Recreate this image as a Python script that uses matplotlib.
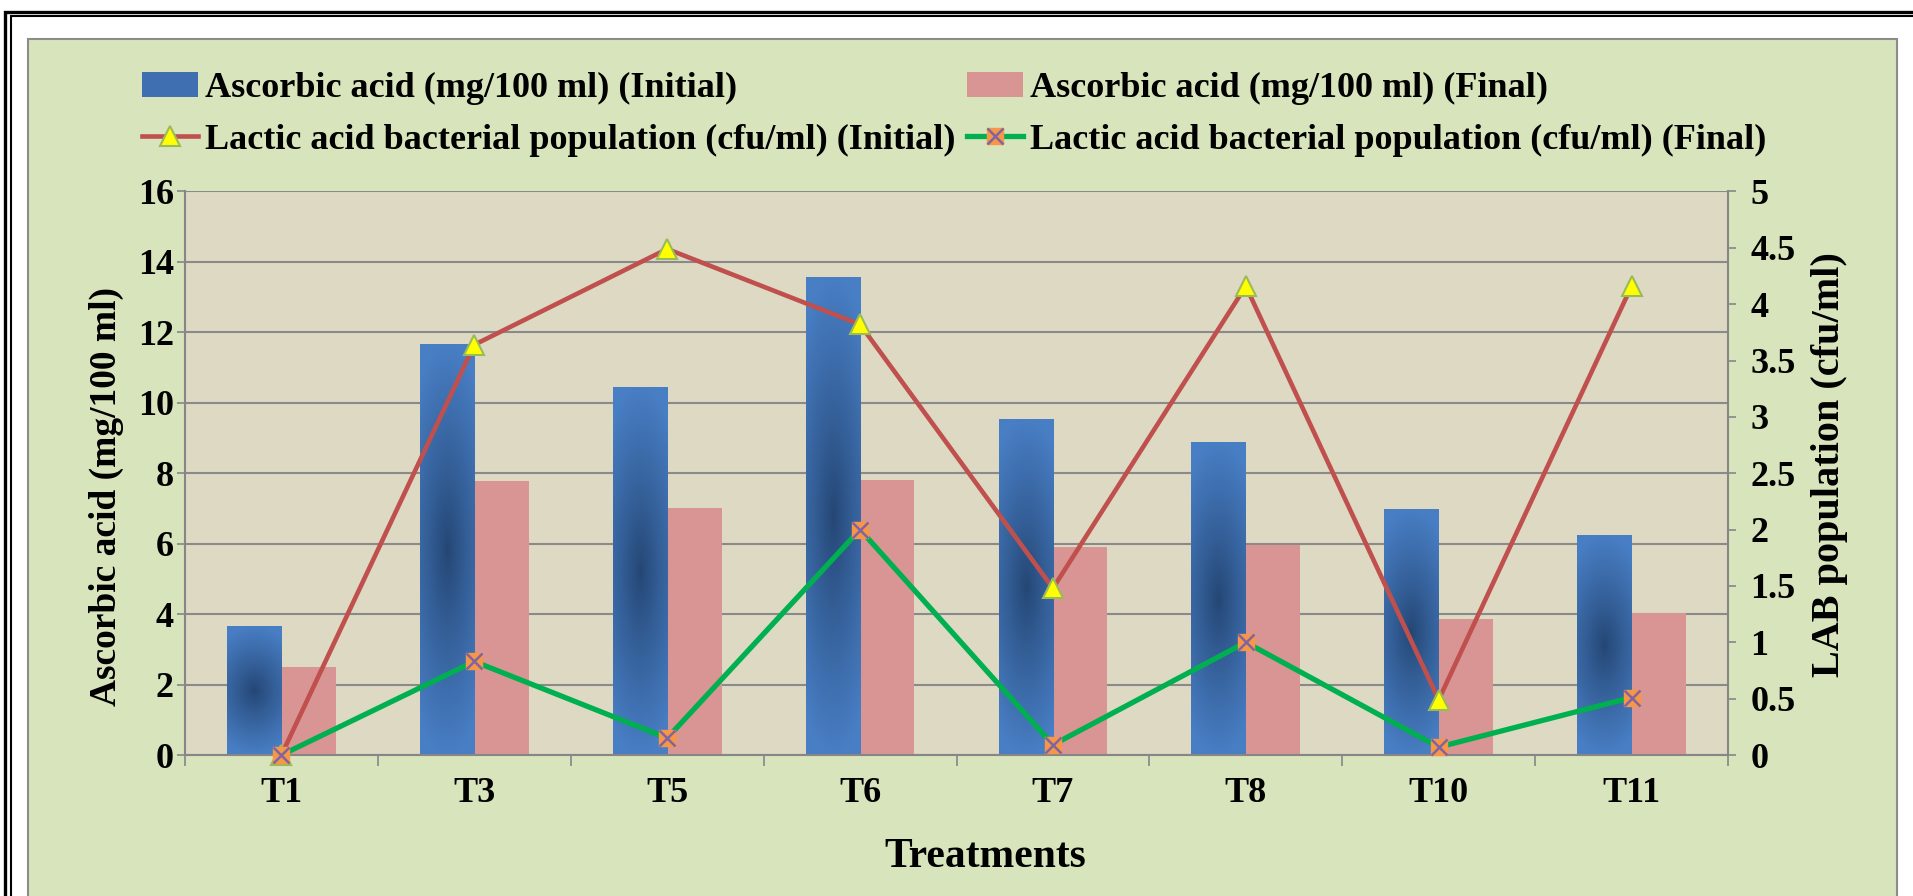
import numpy as np
import matplotlib
matplotlib.use('Agg')
import matplotlib.pyplot as plt
from matplotlib.patches import Rectangle, Patch
from matplotlib.lines import Line2D
from matplotlib.legend_handler import HandlerTuple

# Data
treatments = ['T1', 'T3', 'T5', 'T6', 'T7', 'T8', 'T10', 'T11']
ascorbic_initial = [3.65, 11.66, 10.43, 13.55, 9.53, 8.88, 6.96, 6.23]
ascorbic_final = [2.50, 7.77, 7.00, 7.82, 5.92, 5.97, 3.86, 4.03]
lab_initial = [0.0, 3.64, 4.49, 3.82, 1.48, 4.16, 0.49, 4.16]
lab_final = [0.0, 0.83, 0.15, 2.00, 0.09, 1.00, 0.07, 0.51]

left_ticks = list(range(0, 17, 2))
right_ticks = [0, 0.5, 1, 1.5, 2, 2.5, 3, 3.5, 4, 4.5, 5]

plt.rcParams['font.family'] = ['Liberation Serif', 'DejaVu Serif']
plt.rcParams['font.weight'] = 'bold'
plt.rcParams['axes.labelweight'] = 'bold'

W, H = 1913, 896
fig = plt.figure(figsize=(W / 100, H / 100), dpi=100)
fig.patch.set_facecolor('white')


def fx(px):
    return px / W


def fy(py):
    return 1 - py / H


def frame_rect(x0, y0, x1, y1, **kw):
    # rectangle given in picture pixels (top-left origin)
    r = Rectangle((fx(x0), fy(y1)), fx(x1) - fx(x0), fy(y0) - fy(y1),
                  transform=fig.transFigure, **kw)
    fig.patches.append(r)
    return r


# Double black outer frame (runs off the right and bottom of the picture)
frame_rect(5, 11.7, 1960, 960, fill=False, edgecolor='black', lw=2.4, zorder=-6)
frame_rect(11, 16.2, 1950, 950, fill=False, edgecolor='black', lw=1.5, zorder=-6)
# Green chart panel
frame_rect(27.5, 39.5, 1897, 930, facecolor='#d8e4bc', edgecolor='#8c8c8c', lw=1.5, zorder=-5)

# Plot area
ax = fig.add_axes([fx(185), fy(755), fx(1728) - fx(185), fy(191.5) - fy(755)])
ax.set_facecolor('#ddd9c3')
ax2 = ax.twinx()

x = np.arange(len(treatments))
bw = 0.282

bars_init = ax.bar(x - bw / 2, ascorbic_initial, bw, color='#4a7ec4', zorder=2)
bars_fin = ax.bar(x + bw / 2, ascorbic_final, bw, color='#d99594', zorder=2)

# radial shading on the initial bars
dark = np.array([36, 70, 116]) / 255
light = np.array([72, 126, 196]) / 255
for b in bars_init:
    x0, w, h = b.get_x(), b.get_width(), b.get_height()
    yy, xx = np.mgrid[-1:1:300j, -1:1:40j]
    r = np.clip(np.sqrt(0.3 * xx ** 2 + yy ** 2), 0, 1) ** 0.9
    img = dark + (light - dark) * r[..., None]
    ax.imshow(img, extent=[x0, x0 + w, 0, h], aspect='auto', origin='lower',
              zorder=2.1, interpolation='bilinear')

ax.set_xlim(-0.5, len(treatments) - 0.5)
ax.set_ylim(0, 16)
ax.set_axisbelow(True)
ax.yaxis.grid(True, color='#8a8a8a', lw=1.5)

# LAB lines on the secondary axis
ax2.plot(x, lab_initial, color='#c0504d', lw=3.3, marker='^', ms=14,
         mfc='#ffff00', mec='#9bbb59', mew=1.5, clip_on=False, zorder=3)
ax2.plot(x, lab_final, color='#00b050', lw=3.8, marker='s', ms=12,
         mfc='#f79646', mec='#f79646', clip_on=False, zorder=3)
ax2.plot(x, lab_final, ls='none', marker='x', ms=12, mec='#8064a2', mew=1.8,
         clip_on=False, zorder=4)
ax2.set_ylim(0, 5)

# Axes styling
axis_gray = '#868686'
for s in ['top', 'right']:
    ax.spines[s].set_visible(False)
for s in ['top', 'left', 'bottom']:
    ax2.spines[s].set_visible(False)
ax.spines['left'].set_color(axis_gray)
ax.spines['bottom'].set_color(axis_gray)
ax2.spines['right'].set_color(axis_gray)
for s in [ax.spines['left'], ax.spines['bottom'], ax2.spines['right']]:
    s.set_linewidth(1.5)

ax.set_yticks(left_ticks)
ax.tick_params(axis='y', direction='out', length=6, width=1.2, color=axis_gray,
               labelsize=26, pad=2)
ax2.set_yticks(right_ticks, [f'{v:g}' for v in right_ticks])
ax2.tick_params(axis='y', direction='out', length=6, width=1.2, color=axis_gray,
                labelsize=26, pad=10)

ax.set_xticks(np.arange(-0.5, len(treatments), 1), [''] * (len(treatments) + 1))
ax.tick_params(axis='x', which='major', direction='out', length=8, width=1.2, color=axis_gray)
ax.set_xticks(x, treatments, minor=True)
ax.tick_params(axis='x', which='minor', length=0, labelsize=26, pad=16)

ax.set_ylabel('Ascorbic acid (mg/100 ml)', fontsize=27)
ax.yaxis.set_label_coords(-0.0395, 0.458)
ax2.set_ylabel('LAB population (cfu/ml)', fontsize=29)
ax2.yaxis.set_label_coords(1.054, 0.516)
fig.text(fx(985), fy(857), 'Treatments', ha='center', va='center',
         fontsize=30, fontweight='bold')

# Legend
h_init = Patch(facecolor='#3f6fb0', edgecolor='none')
h_fin = Patch(facecolor='#d99594', edgecolor='none')
h_lab_i = Line2D([], [], color='#c0504d', lw=3.3, marker='^', ms=14,
                 mfc='#ffff00', mec='#9bbb59', mew=1.5)
h_lab_f = (Line2D([], [], color='#00b050', lw=3.8, marker='s', ms=12,
                  mfc='#f79646', mec='#f79646'),
           Line2D([], [], ls='none', marker='x', ms=12, mec='#8064a2', mew=1.8))
fig.legend([h_init, h_lab_i, h_fin, h_lab_f],
           ['Ascorbic acid (mg/100 ml) (Initial)',
            'Lactic acid bacterial population (cfu/ml) (Initial)',
            'Ascorbic acid (mg/100 ml) (Final)',
            'Lactic acid bacterial population (cfu/ml) (Final)'],
           handler_map={tuple: HandlerTuple(ndivide=1, pad=0)},
           ncol=2, loc='upper left', bbox_to_anchor=(fx(142), fy(72)),
           frameon=False, fontsize=26, handlelength=1.55, handletextpad=0.2,
           columnspacing=0.3, labelspacing=0.5, borderpad=0, borderaxespad=0)

fig.savefig('out.png', dpi=100)
